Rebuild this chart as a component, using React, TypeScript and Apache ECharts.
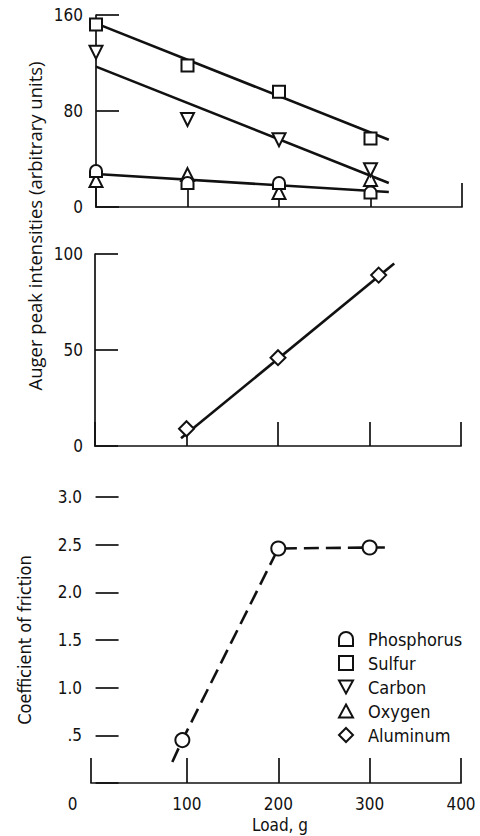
import React, { useEffect, useRef } from "react";
import * as echarts from "echarts";

// ---- data ----
const loads = [0, 100, 200, 300];
const phosphorus = [30, 20, 20, 12];
const sulfur = [152, 118, 96, 57];
const carbon = [129, 73, 56, 31];
const oxygen = [22, 27, 12, 23];

const aluminumLoads = [100, 200, 310];
const aluminum = [9, 46, 89];

const frictionLoads = [95, 200, 300];
const friction = [0.45, 2.46, 2.47];

// hand-drawn fit lines (end points)
const sulfurFitX = [0, 320];
const sulfurFitY = [153, 56];
const carbonFitX = [0, 320];
const carbonFitY = [117, 20];
const lowFitX = [0, 320];
const lowFitY = [27.5, 12.5];
const aluminumFitX = [94, 327];
const aluminumFitY = [4, 95];
const frictionCurveX = [84, 95, 200, 300, 324];
const frictionCurveY = [0.22, 0.45, 2.46, 2.47, 2.47];

// ticks
const loadTicks = [0, 100, 200, 300, 400];
const topTicks = [0, 80, 160];
const midTicks = [0, 50, 100];
const frictionTickLabels = ["", ".5", "1.0", "1.5", "2.0", "2.5", "3.0"];

const elementNames = ["Phosphorus", "Sulfur", "Carbon", "Oxygen", "Aluminum"];
const yTitleTop = "Auger peak intensities (arbitrary units)";
const yTitleBottom = "Coefficient of friction";
const xTitle = "Load, g";

const INK = "#111";
const NUM_FONT = "'Liberation Sans Narrow', 'DejaVu Sans Condensed', sans-serif";
const TXT_FONT = "'DejaVu Sans Condensed', 'Liberation Sans Narrow', sans-serif";
const TITLE_FONT = "'Open Sans', 'Noto Sans', sans-serif";

const SYM: Record<string, string> = {
  Phosphorus: "path://M0,12 L0,6 A6,6 0 0 1 12,6 L12,12 Z",
  Sulfur: "path://M0,0 L12,0 L12,12 L0,12 Z",
  Carbon: "path://M0,0 L12,0 L6,11 Z",
  Oxygen: "path://M6,0 L12,11 L0,11 Z",
  Aluminum: "path://M6,0 L12,6 L6,12 L0,6 Z",
};
const SYM_SIZE: Record<string, number> = {
  Phosphorus: 12,
  Sulfur: 12,
  Carbon: 13,
  Oxygen: 13,
  Aluminum: 15,
};

const pairs = (xs: number[], ys: number[]) => xs.map((x, i) => [x, ys[i]]);

export default function App() {
  const ref = useRef<HTMLDivElement>(null);
  useEffect(() => {
    document.body.style.margin = "0";
    if (!ref.current) return;
    const chart = echarts.init(ref.current, null, { renderer: "svg" });

    const axisLine = { show: true, lineStyle: { color: INK, width: 1.7 } };
    const tick = (len: number) => ({
      show: true,
      inside: true,
      length: len,
      lineStyle: { color: INK, width: 1.7 },
    });
    const numLabel = { color: INK, fontFamily: NUM_FONT, fontSize: 17 };

    const fitLine = (xs: number[], ys: number[], gi: number, dashed = false) => ({
      type: "line",
      xAxisIndex: gi,
      yAxisIndex: gi,
      data: pairs(xs, ys),
      symbol: "none",
      silent: true,
      z: 2,
      lineStyle: { color: INK, width: 2.6, type: dashed ? [15, 7] : "solid" },
    });
    const scatter = (name: string, xs: number[], ys: number[], gi: number) => ({
      type: "scatter",
      name,
      xAxisIndex: gi,
      yAxisIndex: gi,
      data: pairs(xs, ys),
      symbol: SYM[name],
      symbolSize: SYM_SIZE[name],
      z: 5,
      itemStyle: { color: "#fff", borderColor: INK, borderWidth: 2, opacity: 1 },
    });

    chart.setOption({
      animation: false,
      backgroundColor: "#fff",
      grid: [
        { left: 96, top: 15, width: 366, height: 192 },
        { left: 95, top: 254, width: 366, height: 192 },
        { left: 91, top: 497, width: 370, height: 286 },
      ],
      xAxis: [
        {
          gridIndex: 0, type: "value", min: 0, max: 400, interval: 100,
          axisLine, axisTick: tick(24), axisLabel: { show: false }, splitLine: { show: false },
        },
        {
          gridIndex: 1, type: "value", min: 0, max: 400, interval: 100,
          axisLine, axisTick: tick(24), axisLabel: { show: false }, splitLine: { show: false },
        },
        {
          gridIndex: 2, type: "value", min: -5, max: 400,
          axisLine,
          axisTick: { ...tick(25), customValues: [-5, ...loadTicks.slice(1)] },
          axisLabel: {
            ...numLabel,
            margin: 12,
            customValues: loadTicks,
            formatter: (v: number) => (v === 0 ? "{z|0}" : String(v)),
            rich: { z: { ...numLabel, padding: [0, 46, 0, 0] } },
          },
          splitLine: { show: false },
          name: xTitle,
          nameLocation: "middle",
          nameGap: 33,
          nameTextStyle: { color: INK, fontFamily: TXT_FONT, fontSize: 17, padding: [0, 0, 0, 8] },
        },
      ],
      yAxis: [
        {
          gridIndex: 0, type: "value", min: topTicks[0], max: topTicks[2], interval: topTicks[1],
          axisLine, axisTick: tick(23), splitLine: { show: false },
          axisLabel: { ...numLabel, margin: 13 },
        },
        {
          gridIndex: 1, type: "value", min: midTicks[0], max: midTicks[2], interval: midTicks[1],
          axisLine, axisTick: tick(23), splitLine: { show: false },
          axisLabel: { ...numLabel, margin: 12 },
        },
        {
          gridIndex: 2, type: "value", min: 0, max: 3, interval: 0.5,
          axisLine: { show: false }, axisTick: tick(23), splitLine: { show: false },
          axisLabel: {
            ...numLabel,
            margin: 9,
            formatter: (v: number) => frictionTickLabels[Math.round(v * 2)] ?? "",
          },
          name: yTitleBottom,
          nameLocation: "middle",
          nameGap: 58,
          nameTextStyle: { color: INK, fontFamily: TXT_FONT, fontSize: 18 },
        },
      ],
      legend: {
        orient: "vertical",
        left: 333,
        top: 625,
        itemWidth: 14,
        itemHeight: 14,
        itemGap: 6,
        selectedMode: false,
        data: elementNames.map((n) => ({ name: n, icon: SYM[n] })),
        itemStyle: { color: "#fff", borderColor: INK, borderWidth: 2 },
        textStyle: {
          color: INK,
          fontFamily: TXT_FONT,
          fontSize: 18,
          lineHeight: 18,
          padding: [0, 0, 0, 10],
        },
      },
      graphic: [
        {
          type: "text",
          x: 34,
          y: 226,
          rotation: Math.PI / 2,
          style: {
            text: yTitleTop,
            fill: INK,
            font: `18.5px ${TITLE_FONT}`,
            align: "center",
            verticalAlign: "middle",
          },
        },
      ],
      series: [
        fitLine(sulfurFitX, sulfurFitY, 0),
        fitLine(carbonFitX, carbonFitY, 0),
        fitLine(lowFitX, lowFitY, 0),
        fitLine(aluminumFitX, aluminumFitY, 1),
        fitLine(frictionCurveX, frictionCurveY, 2, true),
        scatter("Oxygen", loads, oxygen, 0),
        scatter("Phosphorus", loads, phosphorus, 0),
        scatter("Sulfur", loads, sulfur, 0),
        scatter("Carbon", loads, carbon, 0),
        scatter("Aluminum", aluminumLoads, aluminum, 1),
        {
          type: "scatter",
          name: "friction",
          xAxisIndex: 2,
          yAxisIndex: 2,
          data: pairs(frictionLoads, friction),
          symbol: "circle",
          symbolSize: 14,
          z: 5,
          itemStyle: { color: "#fff", borderColor: INK, borderWidth: 2, opacity: 1 },
        },
      ],
    });
    return () => chart.dispose();
  }, []);
  return <div ref={ref} style={{ width: 480, height: 836 }} />;
}
